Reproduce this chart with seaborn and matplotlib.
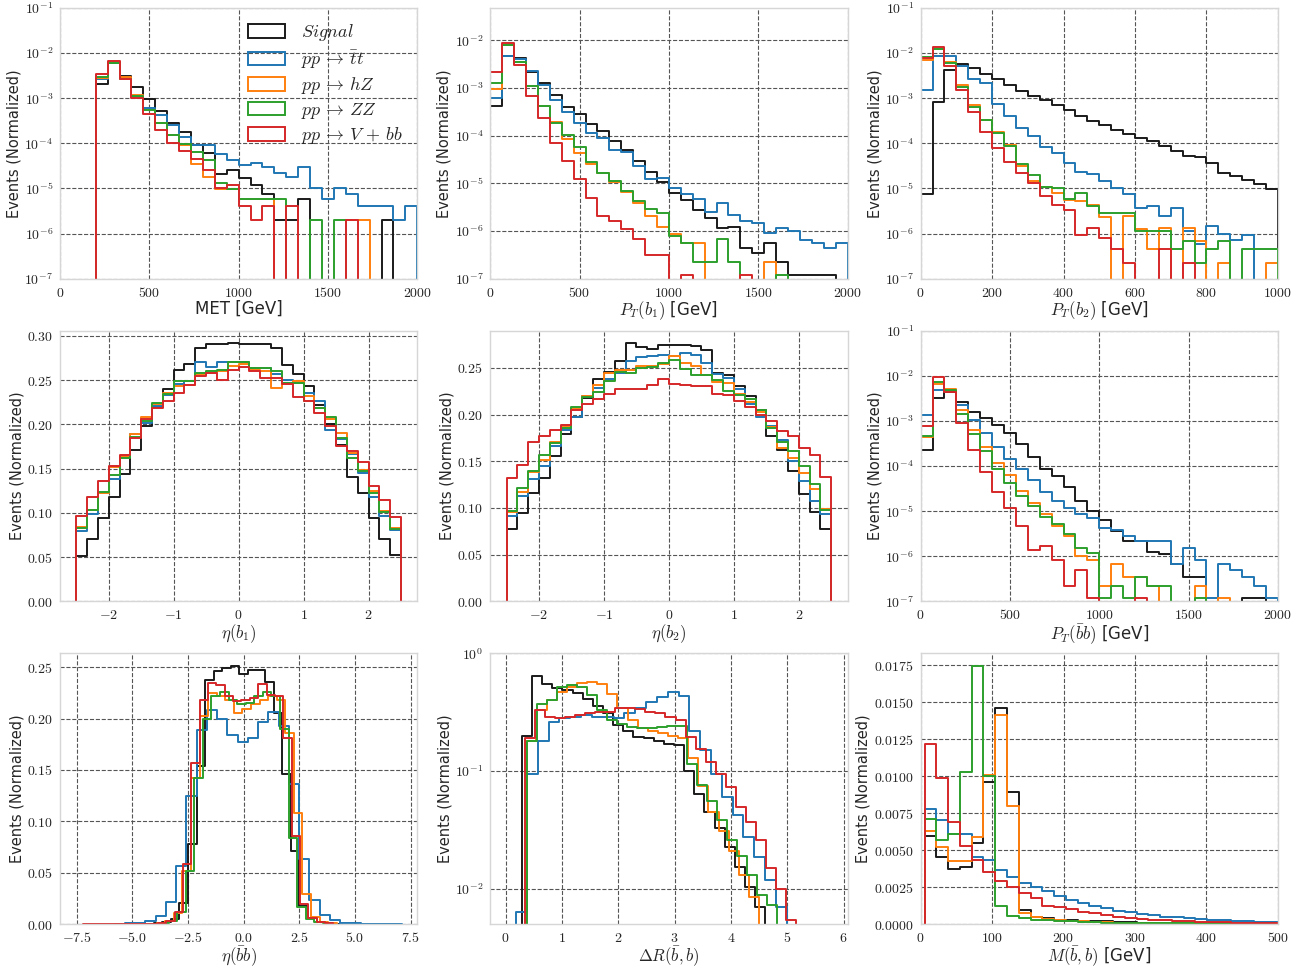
import numpy as np
import pandas as pd
import seaborn as sns
import matplotlib.pyplot as plt
from matplotlib.patches import Patch
from matplotlib.ticker import FuncFormatter, NullFormatter

names = [r'$Signal$', r'$pp \,\rightarrow\, \bar{t}t$', r'$pp \,\rightarrow\, hZ$',
         r'$pp \,\rightarrow\, ZZ$', r'$pp \,\rightarrow\, V \,+\, bb$']
colors = ['#1a1a1a', '#1f77b4', '#ff7f0e', '#2ca02c', '#d62728']

# MET, 30 bins 0-2000 GeV
met_bins = (0, 2000, 30)
met_sig = [0, 0, 0, 2.1e-3, 6.05e-3, 3.07e-3, 1.8e-3, 9.7e-4, 5.2e-4, 2.75e-4, 1.8e-4, 9.4e-5, 6.0e-5, 2.1e-5, 2.5e-5,
           1.66e-5, 1.17e-5, 7.6e-6, 2e-6, 2e-6, 5.8e-6, 0, 0, 0, 0, 0, 0, 2e-6, 0, 0]
met_tt = [0, 0, 0, 2.6e-3, 6.0e-3, 2.8e-3, 1.1e-3, 6.1e-4, 4.3e-4, 2.6e-4, 1.4e-4, 9.4e-5, 9.4e-5, 5.7e-5, 4.2e-5,
          3.3e-5, 3.7e-5, 3.0e-5, 2.2e-5, 1.8e-5, 3.0e-5, 1.0e-5, 5.8e-6, 1.0e-5, 7.5e-6, 4e-6, 4e-6, 4e-6, 2e-6, 4e-6]
met_hz = [0, 0, 0, 2.8e-3, 6.2e-3, 3.0e-3, 1.15e-3, 5.6e-4, 2.75e-4, 1.5e-4, 9e-5, 3.4e-5, 1.8e-5, 9.6e-6, 9.6e-6,
          5.8e-6, 5.8e-6, 5.8e-6, 0, 0, 0, 0, 0, 0, 2e-6, 2e-6, 0, 0, 0, 0]
met_zz = [0, 0, 0, 3.0e-3, 6.0e-3, 2.6e-3, 1.1e-3, 5.6e-4, 2.75e-4, 1.55e-4, 9.9e-5, 6.3e-5, 4.2e-5, 1.3e-5, 9.6e-6,
          5.8e-6, 5.8e-6, 5.8e-6, 5.8e-6, 0, 0, 2e-6, 0, 2e-6, 0, 0, 0, 0, 0, 0]
met_vbb = [0, 0, 0, 3.5e-3, 6.6e-3, 2.6e-3, 1.0e-3, 4.4e-4, 2.0e-4, 1.0e-4, 6.7e-5, 4.6e-5, 2.6e-5, 1.0e-5, 1.2e-5,
           4e-6, 2e-6, 4e-6, 0, 4e-6, 0, 0, 0, 0, 2e-6, 0, 0, 0, 0, 0]

# P_T(b1), 30 bins 0-2000 GeV
pt1_bins = (0, 2000, 30)
pt1_sig = [4.2e-4, 4.8e-3, 4.2e-3, 2.2e-3, 1.29e-3, 7.3e-4, 4.0e-4, 2.9e-4, 1.77e-4, 1.28e-4, 7.9e-5, 4.9e-5, 2.9e-5,
           1.7e-5, 1.05e-5, 6.4e-6, 4.5e-6, 2.8e-6, 1.9e-6, 1.14e-6, 1.23e-6, 4.4e-7, 3.4e-7, 5.5e-7, 2.2e-7, 1.17e-7,
           1.17e-7, 1.17e-7, 1.17e-7, 0]
pt1_tt = [6.2e-4, 4.8e-3, 4.1e-3, 2.3e-3, 1.17e-3, 5.5e-4, 3.1e-4, 1.85e-4, 1.15e-4, 8.9e-5, 5.1e-5, 4.5e-5, 2.3e-5,
          1.26e-5, 1.3e-5, 8.1e-6, 5.9e-6, 4.7e-6, 2.5e-6, 3.9e-6, 2.2e-6, 1.6e-6, 1.5e-6, 9.3e-7, 1.13e-6, 9.8e-7,
          6.5e-7, 5.7e-7, 4.5e-7, 5.7e-7]
pt1_hz = [9.6e-4, 7.9e-3, 3.6e-3, 1.1e-3, 4.3e-4, 1.9e-4, 8.5e-5, 4.4e-5, 2.5e-5, 1.65e-5, 1.05e-5, 6.6e-6, 3.8e-6,
          2.1e-6, 1.2e-6, 8.5e-7, 5.7e-7, 5.7e-7, 0, 0, 0, 0, 0, 2.2e-7, 0, 0, 0, 0, 0, 0]
pt1_zz = [1.26e-3, 7.9e-3, 3.6e-3, 1.1e-3, 4.3e-4, 1.85e-4, 1.04e-4, 5.7e-5, 2.75e-5, 1.65e-5, 1.13e-5, 6.9e-6, 4.3e-6,
          2.9e-6, 2.4e-6, 7.9e-7, 5.7e-7, 2.2e-7, 2.2e-7, 6.9e-7, 2.2e-7, 0, 0, 0, 1.17e-7, 0, 0, 0, 0, 0]
pt1_vbb = [2.2e-3, 8.8e-3, 3.1e-3, 6.9e-4, 2.3e-4, 7.0e-5, 3.0e-5, 1.23e-5, 5.0e-6, 2.1e-6, 1.6e-6, 1.12e-6, 6.9e-7,
           3.2e-7, 3.2e-7, 0, 1.17e-7, 0, 0, 0, 0, 1.17e-7, 0, 0, 0, 0, 0, 0, 0, 0]

# P_T(b2), 30 bins 0-1000 GeV
pt2_bins = (0, 1000, 30)
pt2_sig = [7.7e-6, 8.1e-4, 4.2e-3, 5.6e-3, 4.7e-3, 3.5e-3, 2.6e-3, 1.94e-3, 1.48e-3, 1.1e-3, 9.1e-4, 6.9e-4, 5.4e-4,
           4.0e-4, 3.1e-4, 2.6e-4, 2.0e-4, 1.6e-4, 1.3e-4, 1.12e-4, 8.9e-5, 6.7e-5, 5.2e-5, 5.0e-5, 3.7e-5, 2.2e-5,
           1.86e-5, 1.5e-5, 1.23e-5, 9.8e-6]
pt2_tt = [1.5e-3, 8.8e-3, 8.8e-3, 5.1e-3, 2.7e-3, 2.2e-3, 7.3e-4, 4.0e-4, 2.2e-4, 1.48e-4, 8.3e-5, 6.2e-5, 3.7e-5,
          2.3e-5, 2.1e-5, 1.45e-5, 1.0e-5, 7.4e-6, 3.7e-6, 4.0e-6, 2.5e-6, 3.7e-6, 1.15e-6, 5.8e-7, 1.5e-6, 9.6e-7,
          7.2e-7, 9.2e-7, 0, 0]
pt2_hz = [6.9e-3, 1.23e-2, 6.3e-3, 2.0e-3, 6.9e-4, 3.3e-4, 1.77e-4, 9.4e-5, 3.2e-5, 1.45e-5, 1.1e-5, 8.0e-6, 5.5e-6,
          5.2e-6, 4.4e-6, 2.3e-6, 0, 2.5e-6, 1.23e-6, 4.6e-7, 1.35e-6, 0, 1.35e-6, 6.8e-7, 0, 2.2e-7, 0, 0, 0, 2.2e-7]
pt2_zz = [8.3e-3, 1.23e-2, 6.0e-3, 1.78e-3, 6.5e-4, 3.3e-4, 1.66e-4, 8.7e-5, 3.4e-5, 2.0e-5, 1.1e-5, 1.02e-5, 5.7e-6,
          8.0e-6, 4.1e-6, 2.9e-6, 2.9e-6, 2.9e-6, 1.15e-6, 1.15e-6, 1.15e-6, 4.6e-7, 6.8e-7, 2.2e-7, 4.6e-7, 6.8e-7,
          0, 4.6e-7, 4.6e-7, 4.6e-7]
pt2_vbb = [7.8e-3, 1.35e-2, 5.1e-3, 1.55e-3, 4.9e-4, 1.77e-4, 7.9e-5, 3.8e-5, 2.2e-5, 1.35e-5, 6.8e-6, 4.4e-6, 3.4e-6,
           9.1e-7, 1.35e-6, 8.1e-7, 4.6e-7, 2.2e-7, 0, 0, 4.6e-7, 0, 2.2e-7, 0, 0, 0, 0, 0, 0, 0]

# eta(b1), 30 bins -2.5..2.5
eta1_bins = (-2.5, 2.5, 30)
eta1_sig = [0.051, 0.070, 0.094, 0.118, 0.144, 0.171, 0.198, 0.220, 0.240, 0.262, 0.268, 0.286, 0.291, 0.291, 0.292,
            0.291, 0.291, 0.291, 0.286, 0.267, 0.257, 0.243, 0.222, 0.200, 0.177, 0.141, 0.122, 0.094, 0.071, 0.052]
eta1_tt = [0.080, 0.099, 0.123, 0.138, 0.163, 0.189, 0.202, 0.221, 0.233, 0.246, 0.249, 0.271, 0.265, 0.270, 0.270,
           0.271, 0.264, 0.264, 0.257, 0.250, 0.247, 0.236, 0.226, 0.194, 0.184, 0.166, 0.145, 0.118, 0.097, 0.081]
eta1_hz = [0.084, 0.103, 0.122, 0.152, 0.164, 0.189, 0.208, 0.223, 0.235, 0.243, 0.244, 0.257, 0.258, 0.260, 0.266,
           0.268, 0.262, 0.260, 0.241, 0.247, 0.249, 0.232, 0.218, 0.206, 0.190, 0.168, 0.148, 0.125, 0.102, 0.083]
eta1_zz = [0.083, 0.103, 0.124, 0.143, 0.162, 0.186, 0.204, 0.224, 0.234, 0.249, 0.249, 0.258, 0.260, 0.262, 0.271,
           0.270, 0.264, 0.264, 0.260, 0.247, 0.247, 0.226, 0.219, 0.208, 0.185, 0.162, 0.147, 0.123, 0.101, 0.082]
eta1_vbb = [0.096, 0.118, 0.136, 0.153, 0.165, 0.185, 0.206, 0.218, 0.226, 0.236, 0.245, 0.255, 0.258, 0.250, 0.262,
            0.265, 0.260, 0.252, 0.253, 0.246, 0.231, 0.226, 0.213, 0.198, 0.176, 0.170, 0.157, 0.130, 0.115, 0.095]

# eta(b2), 30 bins -2.5..2.5
eta2_bins = (-2.5, 2.5, 30)
eta2_sig = [0.077, 0.095, 0.116, 0.132, 0.156, 0.179, 0.198, 0.218, 0.238, 0.246, 0.257, 0.277, 0.273, 0.270, 0.275,
            0.275, 0.275, 0.274, 0.269, 0.245, 0.243, 0.231, 0.220, 0.205, 0.177, 0.162, 0.140, 0.115, 0.096, 0.078]
eta2_tt = [0.091, 0.113, 0.131, 0.145, 0.166, 0.184, 0.198, 0.220, 0.229, 0.238, 0.245, 0.258, 0.262, 0.263, 0.264,
           0.263, 0.266, 0.264, 0.255, 0.244, 0.239, 0.2275, 0.211, 0.198, 0.1875, 0.173, 0.150, 0.129, 0.107, 0.094]
eta2_hz = [0.096, 0.117, 0.139, 0.151, 0.171, 0.188, 0.206, 0.220, 0.232, 0.245, 0.248, 0.248, 0.252, 0.2525, 0.254,
           0.2625, 0.255, 0.2525, 0.243, 0.235, 0.234, 0.2225, 0.214, 0.2025, 0.187, 0.164, 0.154, 0.137, 0.120, 0.099]
eta2_zz = [0.097, 0.121, 0.140, 0.157, 0.170, 0.186, 0.208, 0.219, 0.224, 0.236, 0.246, 0.245, 0.250, 0.251, 0.255,
           0.259, 0.249, 0.243, 0.243, 0.237, 0.225, 0.221, 0.217, 0.205, 0.186, 0.171, 0.161, 0.145, 0.126, 0.098]
eta2_vbb = [0.132, 0.146, 0.171, 0.1775, 0.184, 0.1885, 0.205, 0.211, 0.217, 0.2225, 0.2275, 0.227, 0.2275, 0.232,
            0.238, 0.233, 0.232, 0.231, 0.231, 0.222, 0.221, 0.215, 0.208, 0.200, 0.193, 0.182, 0.177, 0.164, 0.157,
            0.133]

# P_T(bb), 30 bins 0-2000 GeV
ptbb_bins = (0, 2000, 30)
ptbb_sig = [2.3e-4, 3.2e-3, 4.3e-3, 2.6e-3, 1.6e-3, 1.15e-3, 8.3e-4, 5.4e-4, 3.1e-4, 1.58e-4, 8.7e-5, 5.9e-5, 3.4e-5,
            1.7e-5, 9.8e-6, 6.4e-6, 3.7e-6, 2.2e-6, 2.2e-6, 1.23e-6, 1.14e-6, 6.8e-7, 3.4e-7, 3.4e-7, 0, 0, 0, 1.17e-7,
            1.17e-7, 0]
ptbb_tt = [1.38e-3, 4.8e-3, 4.7e-3, 2.2e-3, 1.07e-3, 5.4e-4, 2.7e-4, 1.42e-4, 8.7e-5, 4.8e-5, 2.7e-5, 1.65e-5, 1.18e-5,
           8.7e-6, 7.2e-6, 4.2e-6, 3.9e-6, 2.8e-6, 2.2e-6, 2.2e-6, 2.2e-6, 6.8e-7, 1.5e-6, 8.1e-7, 1.17e-7, 6.8e-7,
           4.9e-7, 3.4e-7, 2.2e-7, 1.17e-7]
ptbb_hz = [4.4e-4, 6.6e-3, 5.1e-3, 1.78e-3, 6.3e-4, 2.6e-4, 1.17e-4, 6.2e-5, 2.8e-5, 1.55e-5, 8.5e-6, 4.6e-6, 2.8e-6,
           1.02e-6, 8.3e-7, 2.2e-7, 6.8e-7, 3.4e-7, 3.4e-7, 2.2e-7, 0, 0, 0, 2.2e-7, 0, 1.17e-7, 0, 0, 0, 0]
ptbb_zz = [4.7e-4, 7.2e-3, 4.8e-3, 1.4e-3, 5.1e-4, 2.1e-4, 8.5e-5, 4.1e-5, 2.2e-5, 1.27e-5, 7.4e-6, 5.2e-6, 3.1e-6,
           1.5e-6, 1.17e-6, 1.17e-7, 2.2e-7, 1.17e-7, 3.4e-7, 2.2e-7, 2.2e-7, 0, 0, 1.17e-7, 0, 0, 0, 0, 0, 0]
ptbb_vbb = [7.8e-4, 9.3e-3, 4.3e-3, 8.9e-4, 2.3e-4, 7.2e-5, 2.7e-5, 1.2e-5, 4.6e-6, 1.38e-6, 1.7e-6, 8.3e-7, 2.2e-7,
            4.9e-7, 1.17e-7, 0, 0, 0, 1.17e-7, 0, 0, 0, 0, 0, 0, 0, 0, 0, 0, 0]

# eta(bb): each sample was binned on its own range -> (first edge, bin width)
etabb_start = [-4.04, -5.80, -3.905, -3.755, -7.22]
etabb_width = [0.385, 0.461, 0.385, 0.385, 0.375]
etabb_sig = [0.0005, 0.002, 0.005, 0.020, 0.078, 0.154, 0.238, 0.246, 0.249, 0.251, 0.2435, 0.247, 0.247, 0.236,
             0.205, 0.146, 0.071, 0.018, 0.006, 0.002, 0.001, 0.0003]
etabb_tt = [0.0002, 0.0005, 0.001, 0.0026, 0.0075, 0.021, 0.056, 0.125, 0.189, 0.208, 0.200, 0.184, 0.177, 0.181,
            0.197, 0.206, 0.193, 0.136, 0.063, 0.023, 0.009, 0.0035, 0.0013, 0.0005, 0.0002, 0.0001, 0.00005, 0.00003]
etabb_hz = [0.0007, 0.0026, 0.011, 0.052, 0.142, 0.202, 0.225, 0.222, 0.218, 0.205, 0.209, 0.214, 0.218, 0.222, 0.218,
            0.186, 0.108, 0.029, 0.007, 0.002, 0.0007]
etabb_zz = [0.001, 0.003, 0.012, 0.052, 0.142, 0.200, 0.222, 0.226, 0.218, 0.214, 0.215, 0.222, 0.226, 0.222, 0.190,
            0.084, 0.017, 0.005, 0.002, 0.001]
etabb_vbb = [0, 0, 0, 0, 0, 0, 0, 0, 0, 0.001, 0.003, 0.012, 0.058, 0.157, 0.218, 0.235, 0.233, 0.222, 0.217, 0.218,
             0.220, 0.234, 0.223, 0.222, 0.181, 0.086, 0.019, 0.006, 0.002, 0.0005]

# Delta R(bb): also binned per sample
dr_start = [0.29, 0.19, 0.37, 0.385, 0.34]
dr_width = [0.18, 0.192, 0.1795, 0.1775, 0.1785]
dr_sig = [0.20, 0.64, 0.55, 0.51, 0.49, 0.46, 0.41, 0.36, 0.31, 0.244, 0.22, 0.196, 0.19, 0.18, 0.17, 0.165, 0.10,
          0.064, 0.045, 0.033, 0.0226, 0.0153, 0.0103, 0.0070]
dr_tt = [0.0063, 0.095, 0.18, 0.26, 0.28, 0.29, 0.30, 0.29, 0.29, 0.28, 0.31, 0.34, 0.386, 0.425, 0.47, 0.43, 0.22,
         0.15, 0.095, 0.060, 0.042, 0.0275, 0.0186, 0.0118, 0.0070]
dr_hz = [0.18, 0.33, 0.40, 0.47, 0.52, 0.56, 0.57, 0.55, 0.45, 0.34, 0.27, 0.23, 0.22, 0.21, 0.20, 0.19, 0.13, 0.075,
         0.045, 0.031, 0.021, 0.013, 0.0085]
dr_zz = [0.18, 0.37, 0.40, 0.52, 0.54, 0.52, 0.44, 0.33, 0.27, 0.25, 0.235, 0.23, 0.23, 0.235, 0.24, 0.24, 0.115,
         0.076, 0.055, 0.038, 0.026, 0.019, 0.013, 0.0088, 0.0072]
dr_vbb = [0.19, 0.33, 0.29, 0.28, 0.285, 0.30, 0.31, 0.32, 0.32, 0.345, 0.34, 0.335, 0.32, 0.31, 0.29, 0.27, 0.195,
          0.155, 0.12, 0.095, 0.073, 0.049, 0.037, 0.026, 0.015, 0.010, 0.0054]

# M(bb), 30 bins 5.5-500 GeV
mbb_bins = (5.5, 500, 30)
mbb_sig = [0.00595, 0.00455, 0.0037, 0.00383, 0.0055, 0.0096, 0.01457, 0.00894, 0.00095, 0.00045, 0.00038, 0.0003,
           0.00027, 0.00022, 0.0002, 0.00017, 0.00014, 0.00012, 0.0001, 0.00009, 0.00008, 0.00007, 0.00006, 0.00005,
           0.00004, 0.00004, 0.00003, 0.00003, 0.00002, 0.00002]
mbb_tt = [0.0078, 0.0070, 0.0061, 0.0061, 0.00455, 0.0043, 0.00365, 0.00315, 0.00275, 0.0025, 0.00225, 0.0019, 0.0016,
          0.0014, 0.0012, 0.00105, 0.0009, 0.0008, 0.0007, 0.0006, 0.0005, 0.00045, 0.0004, 0.00033, 0.00028, 0.00024,
          0.0002, 0.00017, 0.00014, 0.00012]
mbb_hz = [0.0063, 0.0052, 0.00425, 0.00425, 0.0059, 0.0101, 0.0141, 0.0080, 0.00077, 0.00045, 0.00035, 0.00028,
          0.00022, 0.00018, 0.00015, 0.00012, 0.0001, 0.00009, 0.00008, 0.00007, 0.00006, 0.00005, 0.00004, 0.00004,
          0.00003, 0.00003, 0.00002, 0.00002, 0.00002, 0.00001]
mbb_zz = [0.0071, 0.0057, 0.0061, 0.0103, 0.01743, 0.0100, 0.00124, 0.00054, 0.00038, 0.0003, 0.00025, 0.0002,
          0.00017, 0.00014, 0.00012, 0.0001, 0.00009, 0.00008, 0.00007, 0.00006, 0.00005, 0.00004, 0.00004, 0.00003,
          0.00003, 0.00002, 0.00002, 0.00002, 0.00001, 0.00001]
mbb_vbb = [0.0122, 0.00984, 0.0069, 0.00527, 0.00432, 0.00354, 0.00293, 0.00252, 0.00207, 0.00173, 0.00124, 0.00117,
           0.00099, 0.00083, 0.00072, 0.00059, 0.0005, 0.00043, 0.00036, 0.0003, 0.00026, 0.00022, 0.00019, 0.00016,
           0.00014, 0.00012, 0.0001, 0.00008, 0.00007, 0.00006]


sns.set_style('whitegrid', {'grid.linestyle': '--', 'grid.color': '#555555', 'axes.edgecolor': '#d6d6d6'})
plt.rcParams['font.family'] = ['DejaVu Sans']
plt.rcParams['mathtext.fontset'] = 'cm'
plt.rcParams['grid.linewidth'] = 0.8


def draw_hist(ax, edges, vals, color):
    # step outline like plt.hist(histtype='step'): up from 0 at the first edge, down to 0 at the last
    edges = np.asarray(edges, dtype=float)
    vals = np.asarray(vals, dtype=float)
    x = np.concatenate([[edges[0]], edges, [edges[-1]]])
    y = np.concatenate([[0.0], vals, [vals[-1], 0.0]])
    df = pd.DataFrame({'x': x, 'y': y})
    sns.lineplot(data=df, x='x', y='y', ax=ax, color=color, linewidth=1.4, drawstyle='steps-post',
                 estimator=None, sort=False, legend=False)


def math_fmt(fmt):
    return FuncFormatter(lambda v, p: '$' + fmt.format(v) + '$')


log_fmt = FuncFormatter(lambda v, p: r'$10^{%d}$' % int(round(np.log10(v))))

panels = [
    # (edges per sample, samples, xlabel, log?, ylim, xlim, xticks, yticks, xfmt, yfmt)
    ([np.linspace(*met_bins[:2], met_bins[2] + 1)] * 5, [met_sig, met_tt, met_hz, met_zz, met_vbb],
     'MET [GeV]', True, (1e-7, 1e-1), (0, 2000), [0, 500, 1000, 1500, 2000], None, '{:g}', None),
    ([np.linspace(*pt1_bins[:2], pt1_bins[2] + 1)] * 5, [pt1_sig, pt1_tt, pt1_hz, pt1_zz, pt1_vbb],
     r'$P_T(b_1)$ [GeV]', True, (1e-7, 0.048), (0, 2000), [0, 500, 1000, 1500, 2000], None, '{:g}', None),
    ([np.linspace(*pt2_bins[:2], pt2_bins[2] + 1)] * 5, [pt2_sig, pt2_tt, pt2_hz, pt2_zz, pt2_vbb],
     r'$P_T(b_2)$ [GeV]', True, (1e-7, 1e-1), (0, 1000), [0, 200, 400, 600, 800, 1000], None, '{:g}', None),
    ([np.linspace(*eta1_bins[:2], eta1_bins[2] + 1)] * 5, [eta1_sig, eta1_tt, eta1_hz, eta1_zz, eta1_vbb],
     r'$\eta(b_1)$', False, (0, 0.306), (-2.75, 2.75), [-2, -1, 0, 1, 2],
     [0, 0.05, 0.10, 0.15, 0.20, 0.25, 0.30], '{:g}', '{:.2f}'),
    ([np.linspace(*eta2_bins[:2], eta2_bins[2] + 1)] * 5, [eta2_sig, eta2_tt, eta2_hz, eta2_zz, eta2_vbb],
     r'$\eta(b_2)$', False, (0, 0.29), (-2.75, 2.75), [-2, -1, 0, 1, 2],
     [0, 0.05, 0.10, 0.15, 0.20, 0.25], '{:g}', '{:.2f}'),
    ([np.linspace(*ptbb_bins[:2], ptbb_bins[2] + 1)] * 5, [ptbb_sig, ptbb_tt, ptbb_hz, ptbb_zz, ptbb_vbb],
     r'$P_T(\bar{b}b)$ [GeV]', True, (1e-7, 1e-1), (0, 2000), [0, 500, 1000, 1500, 2000], None, '{:g}', None),
    ([s + w * np.arange(len(v) + 1) for s, w, v in
      zip(etabb_start, etabb_width, [etabb_sig, etabb_tt, etabb_hz, etabb_zz, etabb_vbb])],
     [etabb_sig, etabb_tt, etabb_hz, etabb_zz, etabb_vbb],
     r'$\eta(\bar{b}b)$', False, (0, 0.2635), (-8.25, 7.8), [-7.5, -5.0, -2.5, 0.0, 2.5, 5.0, 7.5],
     [0, 0.05, 0.10, 0.15, 0.20, 0.25], '{:.1f}', '{:.2f}'),
    ([s + w * np.arange(len(v) + 1) for s, w, v in
      zip(dr_start, dr_width, [dr_sig, dr_tt, dr_hz, dr_zz, dr_vbb])],
     [dr_sig, dr_tt, dr_hz, dr_zz, dr_vbb],
     r'$\Delta R(\bar{b},b)$', True, (0.005, 1.0), (-0.27, 6.07), [0, 1, 2, 3, 4, 5, 6], [1e-2, 1e-1, 1],
     '{:g}', None),
    ([np.linspace(*mbb_bins[:2], mbb_bins[2] + 1)] * 5, [mbb_sig, mbb_tt, mbb_hz, mbb_zz, mbb_vbb],
     r'$M(\bar{b},b)$ [GeV]', False, (0, 0.0183), (0, 500), [0, 100, 200, 300, 400, 500],
     [0, 0.0025, 0.005, 0.0075, 0.01, 0.0125, 0.015, 0.0175], '{:g}', '{:.4f}'),
]

fig, axes = plt.subplots(3, 3, figsize=(13.12, 9.71), dpi=100)
fig.subplots_adjust(left=0.0457, right=0.974, bottom=0.0484, top=0.9918, wspace=0.2045, hspace=0.192)

for ax, (edges, samples, xlabel, logy, ylim, xlim, xticks, yticks, xfmt, yfmt) in zip(axes.flat, panels):
    for e, v, c in zip(edges, samples, colors):
        draw_hist(ax, e, v, c)
    if logy:
        ax.set_yscale('log')
        if yticks is None:
            yticks = [10.0 ** k for k in range(-7, 0)]
        ax.yaxis.set_major_formatter(log_fmt)
        ax.yaxis.set_minor_formatter(NullFormatter())
        ax.minorticks_off()
    else:
        ax.yaxis.set_major_formatter(math_fmt(yfmt))
    ax.set_yticks(yticks)
    ax.set_xticks(xticks)
    ax.xaxis.set_major_formatter(math_fmt(xfmt))
    ax.set_xlim(*xlim)
    ax.set_ylim(*ylim)
    ax.tick_params(labelsize=10, pad=1.5)
    ax.set_xlabel(xlabel, fontsize=12, labelpad=0)
    ax.set_ylabel('Events (Normalized)', fontsize=10.5, labelpad=2)
    for sp in ax.spines.values():
        sp.set_linewidth(1.0)

handles = [Patch(facecolor='none', edgecolor=c, linewidth=1.4) for c in colors]
axes[0, 0].legend(handles, names, loc='upper right', frameon=False, fontsize=13, handlelength=2.0,
                  handleheight=0.8, labelspacing=0.25, borderaxespad=0.4, handletextpad=0.9)

fig.savefig('out.png', dpi=100)
